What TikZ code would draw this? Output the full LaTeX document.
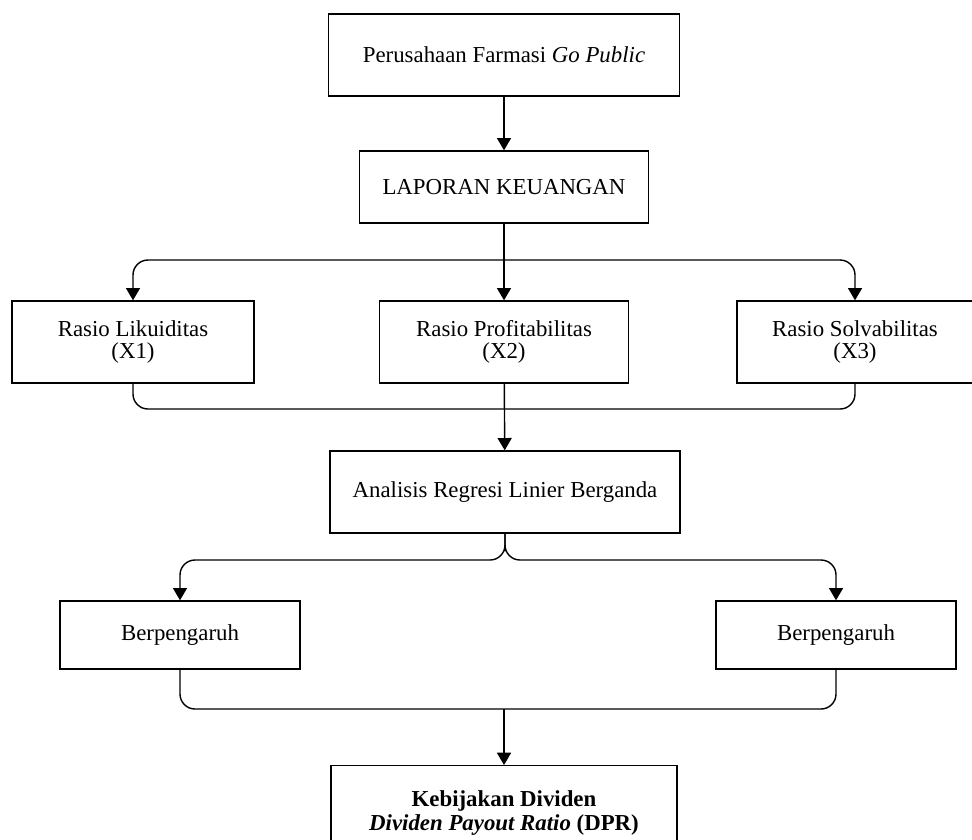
\documentclass[tikz,border=0pt]{standalone}
\usepackage{fontspec}
\setmainfont{Liberation Serif}
\usepackage{tikz}
\usetikzlibrary{arrows.meta}

\begin{document}
\begin{tikzpicture}[x=0.02cm,y=-0.02cm,line width=0.8pt,
        >={Triangle[width=8pt,length=7pt]},
        box/.style={draw,align=center,inner sep=2pt,
            font=\fontsize{13}{12.5}\selectfont},
        link/.style={->,rounded corners=0.3cm}]
        \useasboundingbox (0,0) rectangle (972,839);
        \node[box,minimum width=7.02cm,minimum height=1.64cm] (perusahaan) at (504,55) {Perusahaan Farmasi \textit{Go Public}};
        \node[box,minimum width=5.78cm,minimum height=1.44cm] (laporan) at (504,187) {LAPORAN KEUANGAN};
        \node[box,minimum width=4.84cm,minimum height=1.64cm] (likuid) at (133,342) {Rasio Likuiditas\\(X1)};
        \node[box,minimum width=4.98cm,minimum height=1.64cm] (profit) at (504,342) {Rasio Profitabilitas\\(X2)};
        \node[box,minimum width=4.72cm,minimum height=1.64cm] (solva) at (855,342) {Rasio Solvabilitas\\(X3)};
        \node[box,minimum width=7cm,minimum height=1.64cm] (analisis) at (505,492) {Analisis Regresi Linier Berganda};
        \node[box,minimum width=4.8cm,minimum height=1.36cm] (pengaruhA) at (180,635) {Berpengaruh};
        \node[box,minimum width=4.8cm,minimum height=1.36cm] (pengaruhB) at (836,635) {Berpengaruh};
        \node[box,anchor=north,minimum width=6.92cm,minimum height=1.9cm,
            font=\fontsize{13}{13.5}\selectfont\bfseries] (dividen) at (504,765)
            {Kebijakan Dividen\\\textit{Dividen Payout Ratio} (DPR)};
        \coordinate (bagi) at (504,260);
        \coordinate (gabung) at (504,409);
        \coordinate (pisah) at (505,560);
        \coordinate (temu) at (504,709);
        \draw[->] (perusahaan) -- (laporan);
        \draw[->] (laporan) -- (profit);
        \draw[link] (bagi) -| (likuid);
        \draw[link] (bagi) -| (solva);
        \draw[rounded corners=0.3cm] (likuid) |- (gabung) -| (solva);
        \draw[->] (profit) -- (analisis);
        \draw[link] (analisis) |- (pisah) -| (pengaruhA);
        \draw[link] (analisis) |- (pisah) -| (pengaruhB);
        \draw[rounded corners=0.3cm] (pengaruhA) |- (temu) -| (pengaruhB);
        \draw[->] (temu) -- (dividen);
    \end{tikzpicture}
\end{document}
